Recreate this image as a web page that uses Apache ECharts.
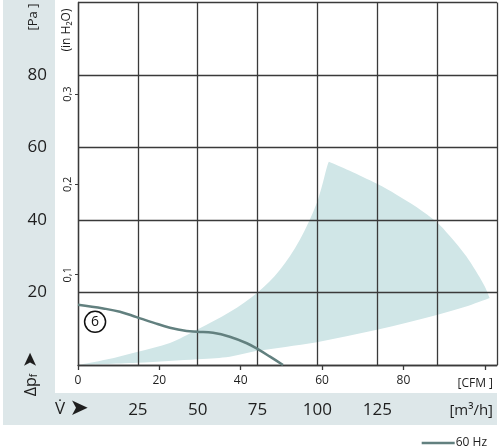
<!DOCTYPE html>
<html><head><meta charset="utf-8">
<script src="https://cdn.jsdelivr.net/npm/echarts@6/dist/echarts.min.js"></script>
<style>html,body{margin:0;padding:0;background:#fff}#c{width:500px;height:447px}</style>
</head><body><div id="c"></div>
<script>
// Fan curve (CFM vs Pa)
const fanFlow     = [0, 6.2, 10.3, 14.4, 18.5, 22.6, 26.7, 29.3, 33.2, 37.3, 41.5, 44.3, 47.2, 50.4];
const fanPressure = [16.6, 15.6, 14.7, 13.2, 11.7, 10.3, 9.4, 9.2, 8.9, 7.8, 6.0, 4.3, 2.3, 0];

// Operating range (shaded) boundaries
const lowerFlow     = [0, 14.5, 29.3, 37.3, 44.0, 51.0, 58.7, 66.0, 73.5, 81.0, 88.2, 95.0, 101.2];
const lowerPressure = [0, 0.6, 1.6, 2.3, 3.9, 5.0, 6.3, 7.9, 9.7, 11.7, 13.8, 16.0, 18.5];
const edgeFlow      = [101.2, 99.6, 95.5, 91.4, 88.2, 83.2, 78.3, 73.5, 66.8, 61.7];
const edgePressure  = [18.5, 22.5, 29.9, 35.6, 39.4, 43.6, 47.0, 50.0, 53.6, 56.1];
const upperFlow     = [61.7, 61.2, 58.7, 54.5, 49.6, 44.2, 37.3, 29.2, 22.6, 14.5, 7.0, 0];
const upperPressure = [56.1, 54.6, 44.7, 34.5, 26.2, 20.1, 14.6, 9.7, 6.1, 3.6, 1.5, 0];

// Tick labels
const cfmLabels   = ['0', '20', '40', '60', '80'];
const cfmTickVals = [0, 20, 40, 60, 80, 100];
const m3hLabels   = ['25', '50', '75', '100', '125'];
const paLabels    = ['20', '40', '60', '80'];
const inH2OLabels = ['0,1', '0,2', '0,3'];
const curveTag = '6';
const curveTagPos = [4.2, 11.9];
const seriesName = '60 Hz';

const rangeParts = [
  lowerFlow.map((q, i) => [q, lowerPressure[i]]),
  edgeFlow.map((q, i) => [q, edgePressure[i]]),
  upperFlow.map((q, i) => [q, upperPressure[i]])
];

// Catmull-Rom smoothing of pixel points into a path string
function smoothSeg(pts, first) {
  let d = first ? 'M' + pts[0][0] + ',' + pts[0][1] : '';
  for (let i = 0; i < pts.length - 1; i++) {
    const p0 = pts[i - 1] || pts[i], p1 = pts[i], p2 = pts[i + 1], p3 = pts[i + 2] || pts[i + 1];
    const c1 = [p1[0] + (p2[0] - p0[0]) / 6, p1[1] + (p2[1] - p0[1]) / 6];
    const c2 = [p2[0] - (p3[0] - p1[0]) / 6, p2[1] - (p3[1] - p1[1]) / 6];
    d += 'C' + c1[0] + ',' + c1[1] + ' ' + c2[0] + ',' + c2[1] + ' ' + p2[0] + ',' + p2[1];
  }
  return d;
}

const FONT = 'Open Sans';
const TXT = '#1e1e1e';
const GRID = '#3a3a3a';
const PANEL = '#dde7e9';
const CFM_MAX = 175 / 1.699;
const INH2O_MAX = 100 / 249.089;

const chart = echarts.init(document.getElementById('c'));
chart.setOption({
  animation: false,
  textStyle: { fontFamily: FONT },
  grid: { left: 78, right: 3, top: 2.5, bottom: 82 },
  legend: {
    data: [{ name: seriesName, icon: 'rect' }],
    right: 8, top: 432, itemWidth: 33, itemHeight: 2.5, itemGap: 0,
    textStyle: { fontSize: 12, color: TXT, fontFamily: FONT, padding: [0, 0, 0, -4] }
  },
  xAxis: [
    {
      type: 'value', min: 0, max: CFM_MAX, interval: 20, position: 'bottom',
      axisLine: { show: true, lineStyle: { color: GRID, width: 1.3 } },
      axisTick: { show: true, length: 5, customValues: cfmTickVals, lineStyle: { color: GRID, width: 1.3 } },
      axisLabel: {
        customValues: cfmLabels.map(Number), fontSize: 12, color: TXT, margin: 10,
        formatter: v => { const i = cfmLabels.indexOf(String(Math.round(v))); return i >= 0 ? cfmLabels[i] : ''; }
      },
      splitLine: { show: false }
    },
    {
      type: 'value', min: 0, max: 175, interval: 25, position: 'bottom',
      axisLine: { show: false }, axisTick: { show: false },
      axisLabel: {
        customValues: m3hLabels.map(Number), fontSize: 17, color: TXT, margin: 37,
        formatter: v => { const i = m3hLabels.indexOf(String(Math.round(v))); return i >= 0 ? m3hLabels[i] : ''; }
      },
      splitLine: { show: true, lineStyle: { color: GRID, width: 1.3 } }
    }
  ],
  yAxis: [
    {
      type: 'value', min: 0, max: 100, interval: 20, position: 'left',
      axisLine: { show: true, lineStyle: { color: GRID, width: 1.3 } },
      axisTick: { show: false },
      axisLabel: {
        customValues: paLabels.map(Number), fontSize: 17, color: TXT, margin: 31,
        formatter: v => { const i = paLabels.indexOf(String(Math.round(v))); return i >= 0 ? paLabels[i] : ''; }
      },
      splitLine: { show: true, lineStyle: { color: GRID, width: 1.3 } }
    },
    {
      type: 'value', min: 0, max: INH2O_MAX, interval: 0.1, position: 'left',
      axisLine: { show: false },
      axisTick: { show: true, inside: false, length: 3, customValues: inH2OLabels.map(s => parseFloat(s.replace(',', '.'))), lineStyle: { color: GRID, width: 1 } },
      axisLabel: {
        customValues: inH2OLabels.map(s => parseFloat(s.replace(',', '.'))),
        rotate: 90, fontSize: 11, color: TXT, margin: 5,
        formatter: v => { const s = v.toFixed(1).replace('.', ','); return inH2OLabels.indexOf(s) >= 0 ? s : ''; }
      },
      splitLine: { show: false }
    }
  ],
  graphic: [
    { type: 'rect', z: -100, shape: { x: 3, y: 0, width: 52, height: 425 }, style: { fill: PANEL } },
    { type: 'rect', z: -100, shape: { x: 3, y: 393, width: 494, height: 32 }, style: { fill: PANEL } },
    { type: 'text', x: 33, y: 17, rotation: Math.PI / 2, style: { text: '[Pa ]', fontSize: 13, fontFamily: FONT, fill: TXT, align: 'center', verticalAlign: 'middle' } },
    { type: 'text', x: 67, y: 30, rotation: Math.PI / 2, style: { text: '(in H₂O)', fontSize: 12, fontFamily: FONT, fill: TXT, align: 'center', verticalAlign: 'middle' } },
    { type: 'text', x: 31, y: 374, rotation: Math.PI / 2, style: {
        text: '{a|Δp}{s|f}{b| ➤}', align: 'center', verticalAlign: 'middle', fill: TXT,
        rich: {
          a: { fontSize: 16, fontFamily: FONT, fill: TXT },
          s: { fontSize: 10, fontFamily: FONT, fill: TXT, padding: [7, 0, 0, 0] },
          b: { fontSize: 19, fontFamily: 'DejaVu Sans', fill: TXT }
        } } },
    { type: 'text', x: 55, y: 409, style: {
        text: '{a|V̇ }{b|➤}', align: 'left', verticalAlign: 'middle', fill: TXT,
        rich: { a: { fontSize: 17, fontFamily: FONT, fill: TXT }, b: { fontSize: 23, fontFamily: 'DejaVu Sans', fill: TXT } } } },
    { type: 'text', x: 493, y: 411, style: { text: '[m³/h]', fontSize: 15, fontFamily: FONT, fill: TXT, align: 'right', verticalAlign: 'middle' } },
    { type: 'text', x: 493, y: 384, style: { text: '[CFM ]', fontSize: 12, fontFamily: FONT, fill: TXT, align: 'right', verticalAlign: 'middle' } }
  ],
  series: [
    {
      type: 'custom', name: 'range', xAxisIndex: 0, yAxisIndex: 0, z: -1, silent: true,
      data: [[0, 0]],
      renderItem: (params, api) => {
        const d = rangeParts.map((part, k) => smoothSeg(part.map(p => api.coord(p)), k === 0)).join('') + 'Z';
        return { type: 'path', shape: { pathData: d }, style: { fill: '#d0e6e7' } };
      }
    },
    {
      type: 'line', name: seriesName, xAxisIndex: 0, yAxisIndex: 0,
      data: fanFlow.map((q, i) => [q, fanPressure[i]]),
      smooth: 0.4, symbol: 'none',
      lineStyle: { color: '#62807f', width: 2.5 },
      itemStyle: { color: '#62807f' },
      markPoint: {
        symbol: 'circle', symbolSize: 21,
        itemStyle: { color: '#fff', borderColor: '#111', borderWidth: 1.5 },
        label: { show: true, formatter: curveTag, color: '#111', fontSize: 14, fontFamily: FONT },
        data: [{ coord: curveTagPos }]
      }
    }
  ]
});
</script></body></html>
